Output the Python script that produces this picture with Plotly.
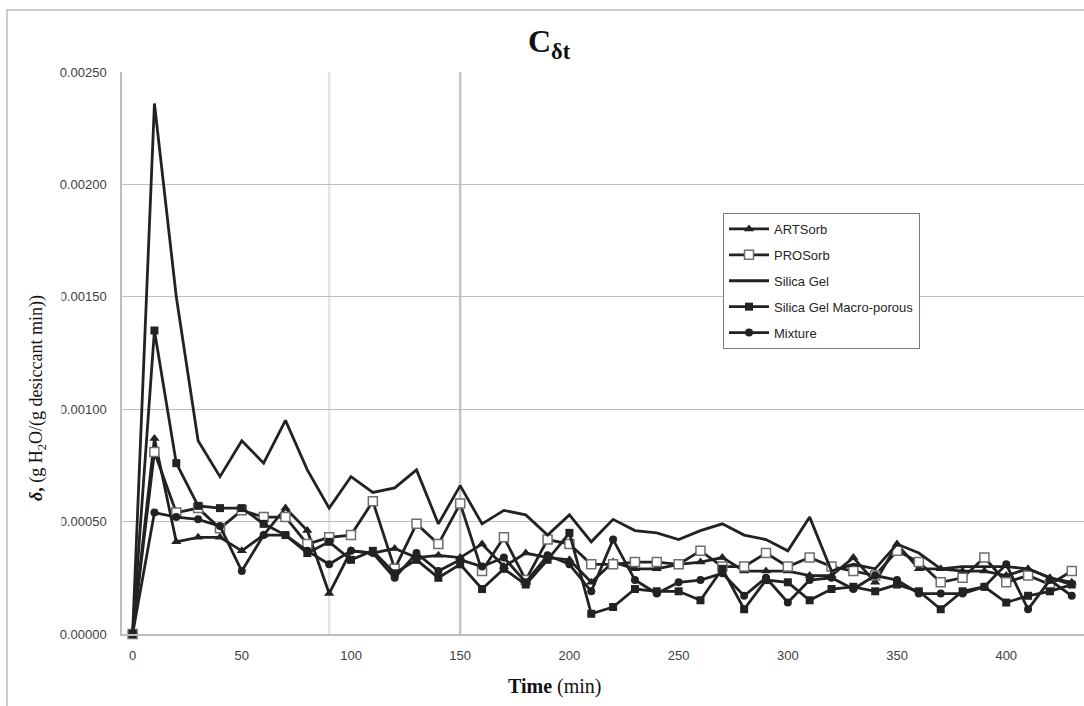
import plotly.graph_objects as go

# ---------------- data ----------------
time_min = list(range(0, 440, 10))

artsorb = [0.0, 0.00087, 0.00041, 0.00043, 0.00043, 0.00037, 0.00044, 0.00056, 0.00046, 0.00018,
           0.00037, 0.00036, 0.00038, 0.00034, 0.00035, 0.00034, 0.00040, 0.00030, 0.00036, 0.00034,
           0.00033, 0.00023, 0.00032, 0.00029, 0.00029, 0.00031, 0.00032, 0.00034, 0.00028, 0.00028,
           0.00028, 0.00026, 0.00026, 0.00034, 0.00023, 0.00040, 0.00029, 0.00029, 0.00028, 0.00028,
           0.00026, 0.00029, 0.00025, 0.00023]

prosorb = [0.0, 0.00081, 0.00054, 0.00056, 0.00047, 0.00055, 0.00052, 0.00052, 0.00040, 0.00043,
           0.00044, 0.00059, 0.00029, 0.00049, 0.00040, 0.00058, 0.00028, 0.00043, 0.00024, 0.00042,
           0.00040, 0.00031, 0.00031, 0.00032, 0.00032, 0.00031, 0.00037, 0.00030, 0.00030, 0.00036,
           0.00030, 0.00034, 0.00030, 0.00028, 0.00026, 0.00037, 0.00032, 0.00023, 0.00025, 0.00034,
           0.00023, 0.00026, 0.00022, 0.00028]

silica_gel = [0.0, 0.00236, 0.00150, 0.00086, 0.00070, 0.00086, 0.00076, 0.00095, 0.00073, 0.00056,
              0.00070, 0.00063, 0.00065, 0.00073, 0.00049, 0.00066, 0.00049, 0.00055, 0.00053, 0.00044,
              0.00053, 0.00041, 0.00051, 0.00046, 0.00045, 0.00042, 0.00046, 0.00049, 0.00044, 0.00042,
              0.00037, 0.00052, 0.00028, 0.00031, 0.00029, 0.00040, 0.00036, 0.00029, 0.00030, 0.00030,
              0.00030, 0.00029, 0.00025, 0.00022]

macro_porous = [0.0, 0.00135, 0.00076, 0.00057, 0.00056, 0.00056, 0.00049, 0.00044, 0.00036, 0.00041,
                0.00033, 0.00037, 0.00027, 0.00033, 0.00025, 0.00031, 0.00020, 0.00029, 0.00022, 0.00033,
                0.00045, 0.00009, 0.00012, 0.00020, 0.00019, 0.00019, 0.00015, 0.00029, 0.00011, 0.00024,
                0.00023, 0.00015, 0.00020, 0.00021, 0.00019, 0.00022, 0.00019, 0.00011, 0.00019, 0.00021,
                0.00014, 0.00017, 0.00019, 0.00022]

mixture = [0.0, 0.00054, 0.00052, 0.00051, 0.00048, 0.00028, 0.00044, 0.00044, 0.00037, 0.00031,
           0.00037, 0.00036, 0.00025, 0.00036, 0.00028, 0.00033, 0.00030, 0.00034, 0.00023, 0.00035,
           0.00031, 0.00019, 0.00042, 0.00024, 0.00018, 0.00023, 0.00024, 0.00027, 0.00017, 0.00025,
           0.00014, 0.00024, 0.00025, 0.00020, 0.00026, 0.00024, 0.00018, 0.00018, 0.00018, 0.00021,
           0.00031, 0.00011, 0.00024, 0.00017]

y_ticks = [0.0, 0.0005, 0.0010, 0.0015, 0.0020, 0.0025]
x_ticks = [0, 50, 100, 150, 200, 250, 300, 350, 400]
marker_lines = [90, 150]

# ---------------- layout geometry ----------------
W, H = 1084, 706
L, R, T, B = 122, 0, 72, 72
PW, PH = W - L - R, H - T - B


def px(x):
    return (x - L) / PW


def py(y):
    return (H - B - y) / PH


LINE = "#222222"
fig = go.Figure()

fig.add_trace(go.Scatter(x=time_min, y=artsorb, name="ARTSorb", mode="lines+markers",
                         line=dict(color=LINE, width=2.8), legendgroup="a",
                         marker=dict(symbol="triangle-up", size=9, color=LINE),
                         cliponaxis=False))
fig.add_trace(go.Scatter(x=time_min, y=prosorb, name="PROSorb", mode="lines+markers",
                         line=dict(color=LINE, width=2.8), legendgroup="b",
                         marker=dict(symbol="square", size=9, color="white",
                                     line=dict(color="#6e6e6e", width=1.5)),
                         cliponaxis=False))
fig.add_trace(go.Scatter(x=time_min, y=silica_gel, name="Silica Gel", mode="lines",
                         line=dict(color=LINE, width=2.8), legendgroup="c",
                         cliponaxis=False))
fig.add_trace(go.Scatter(x=time_min, y=macro_porous, name="Silica Gel Macro-porous",
                         mode="lines+markers", legendgroup="d",
                         line=dict(color=LINE, width=2.8),
                         marker=dict(symbol="square", size=8, color=LINE),
                         cliponaxis=False))
fig.add_trace(go.Scatter(x=time_min, y=mixture, name="Mixture", mode="lines+markers",
                         line=dict(color=LINE, width=2.8), legendgroup="e",
                         marker=dict(symbol="circle", size=8, color=LINE),
                         cliponaxis=False))

shapes = []
# vertical reference lines
for xv, col in zip(marker_lines, ["#e4e4e4", "#c4c4c4"]):
    shapes.append(dict(type="line", xref="x", yref="y", x0=xv, x1=xv,
                       y0=y_ticks[0], y1=y_ticks[-1], line=dict(color=col, width=2.5),
                       layer="below"))
# outer chart border (right and bottom edges lie outside the picture)
shapes.append(dict(type="rect", xref="paper", yref="paper",
                   x0=px(7), x1=px(1250), y0=py(800), y1=py(10),
                   line=dict(color="#bdbdbd", width=1.5), layer="below"))

annotations = [
    # title
    dict(text="<b>C<sub>δt</sub></b>", xref="paper", yref="paper",
         x=px(549), y=py(44), xanchor="center", yanchor="middle", showarrow=False,
         font=dict(family="Liberation Serif", size=32, color="#111111")),
    # white frame of the axis title, covering part of the y tick labels
    dict(text=" ", xref="paper", yref="paper", x=px(38), y=py(372),
         xanchor="center", yanchor="middle", showarrow=False,
         width=44, height=306, bgcolor="white"),
    # y title
    dict(text="<b><i>δ</i>,</b> (g H<sub>2</sub>O/(g desiccant min))",
         xref="paper", yref="paper", x=px(37), y=py(398), textangle=-90,
         xanchor="center", yanchor="middle", showarrow=False,
         font=dict(family="Liberation Serif", size=18, color="#111111")),
    # x title
    dict(text="<b>Time</b> (min)", xref="paper", yref="paper", x=px(555), y=py(686),
         xanchor="center", yanchor="middle", showarrow=False,
         font=dict(family="Liberation Serif", size=20, color="#111111")),
]

fig.update_layout(
    width=W, height=H,
    margin=dict(l=L, r=R, t=T, b=B),
    paper_bgcolor="white", plot_bgcolor="white",
    font=dict(family="Liberation Sans", size=13, color="#404040"),
    showlegend=True,
    legend=dict(x=px(723), y=py(213), xanchor="left", yanchor="top",
                bgcolor="white", bordercolor="#7a7a7a", borderwidth=1,
                font=dict(family="Liberation Sans", size=13, color="#262626"),
                tracegroupgap=6, itemwidth=40),
    shapes=shapes,
    annotations=annotations,
)

fig.update_xaxes(range=[-4.85, 435.6], tickvals=x_ticks, showgrid=False, zeroline=False,
                 showline=True, linecolor="#bdbdbd", linewidth=1.5,
                 ticks="outside", ticklen=0, ticklabelstandoff=9,
                 tickfont=dict(size=13, color="#404040"))
fig.update_yaxes(range=[y_ticks[0], y_ticks[-1]], tickvals=y_ticks, tickformat=".5f",
                 showgrid=True, gridcolor="#bfbfbf", gridwidth=1.2, zeroline=False,
                 showline=True, linecolor="#bdbdbd", linewidth=1.5,
                 ticks="outside", ticklen=0, ticklabelstandoff=11,
                 tickfont=dict(size=13, color="#404040"))

fig.write_html("out.html")
